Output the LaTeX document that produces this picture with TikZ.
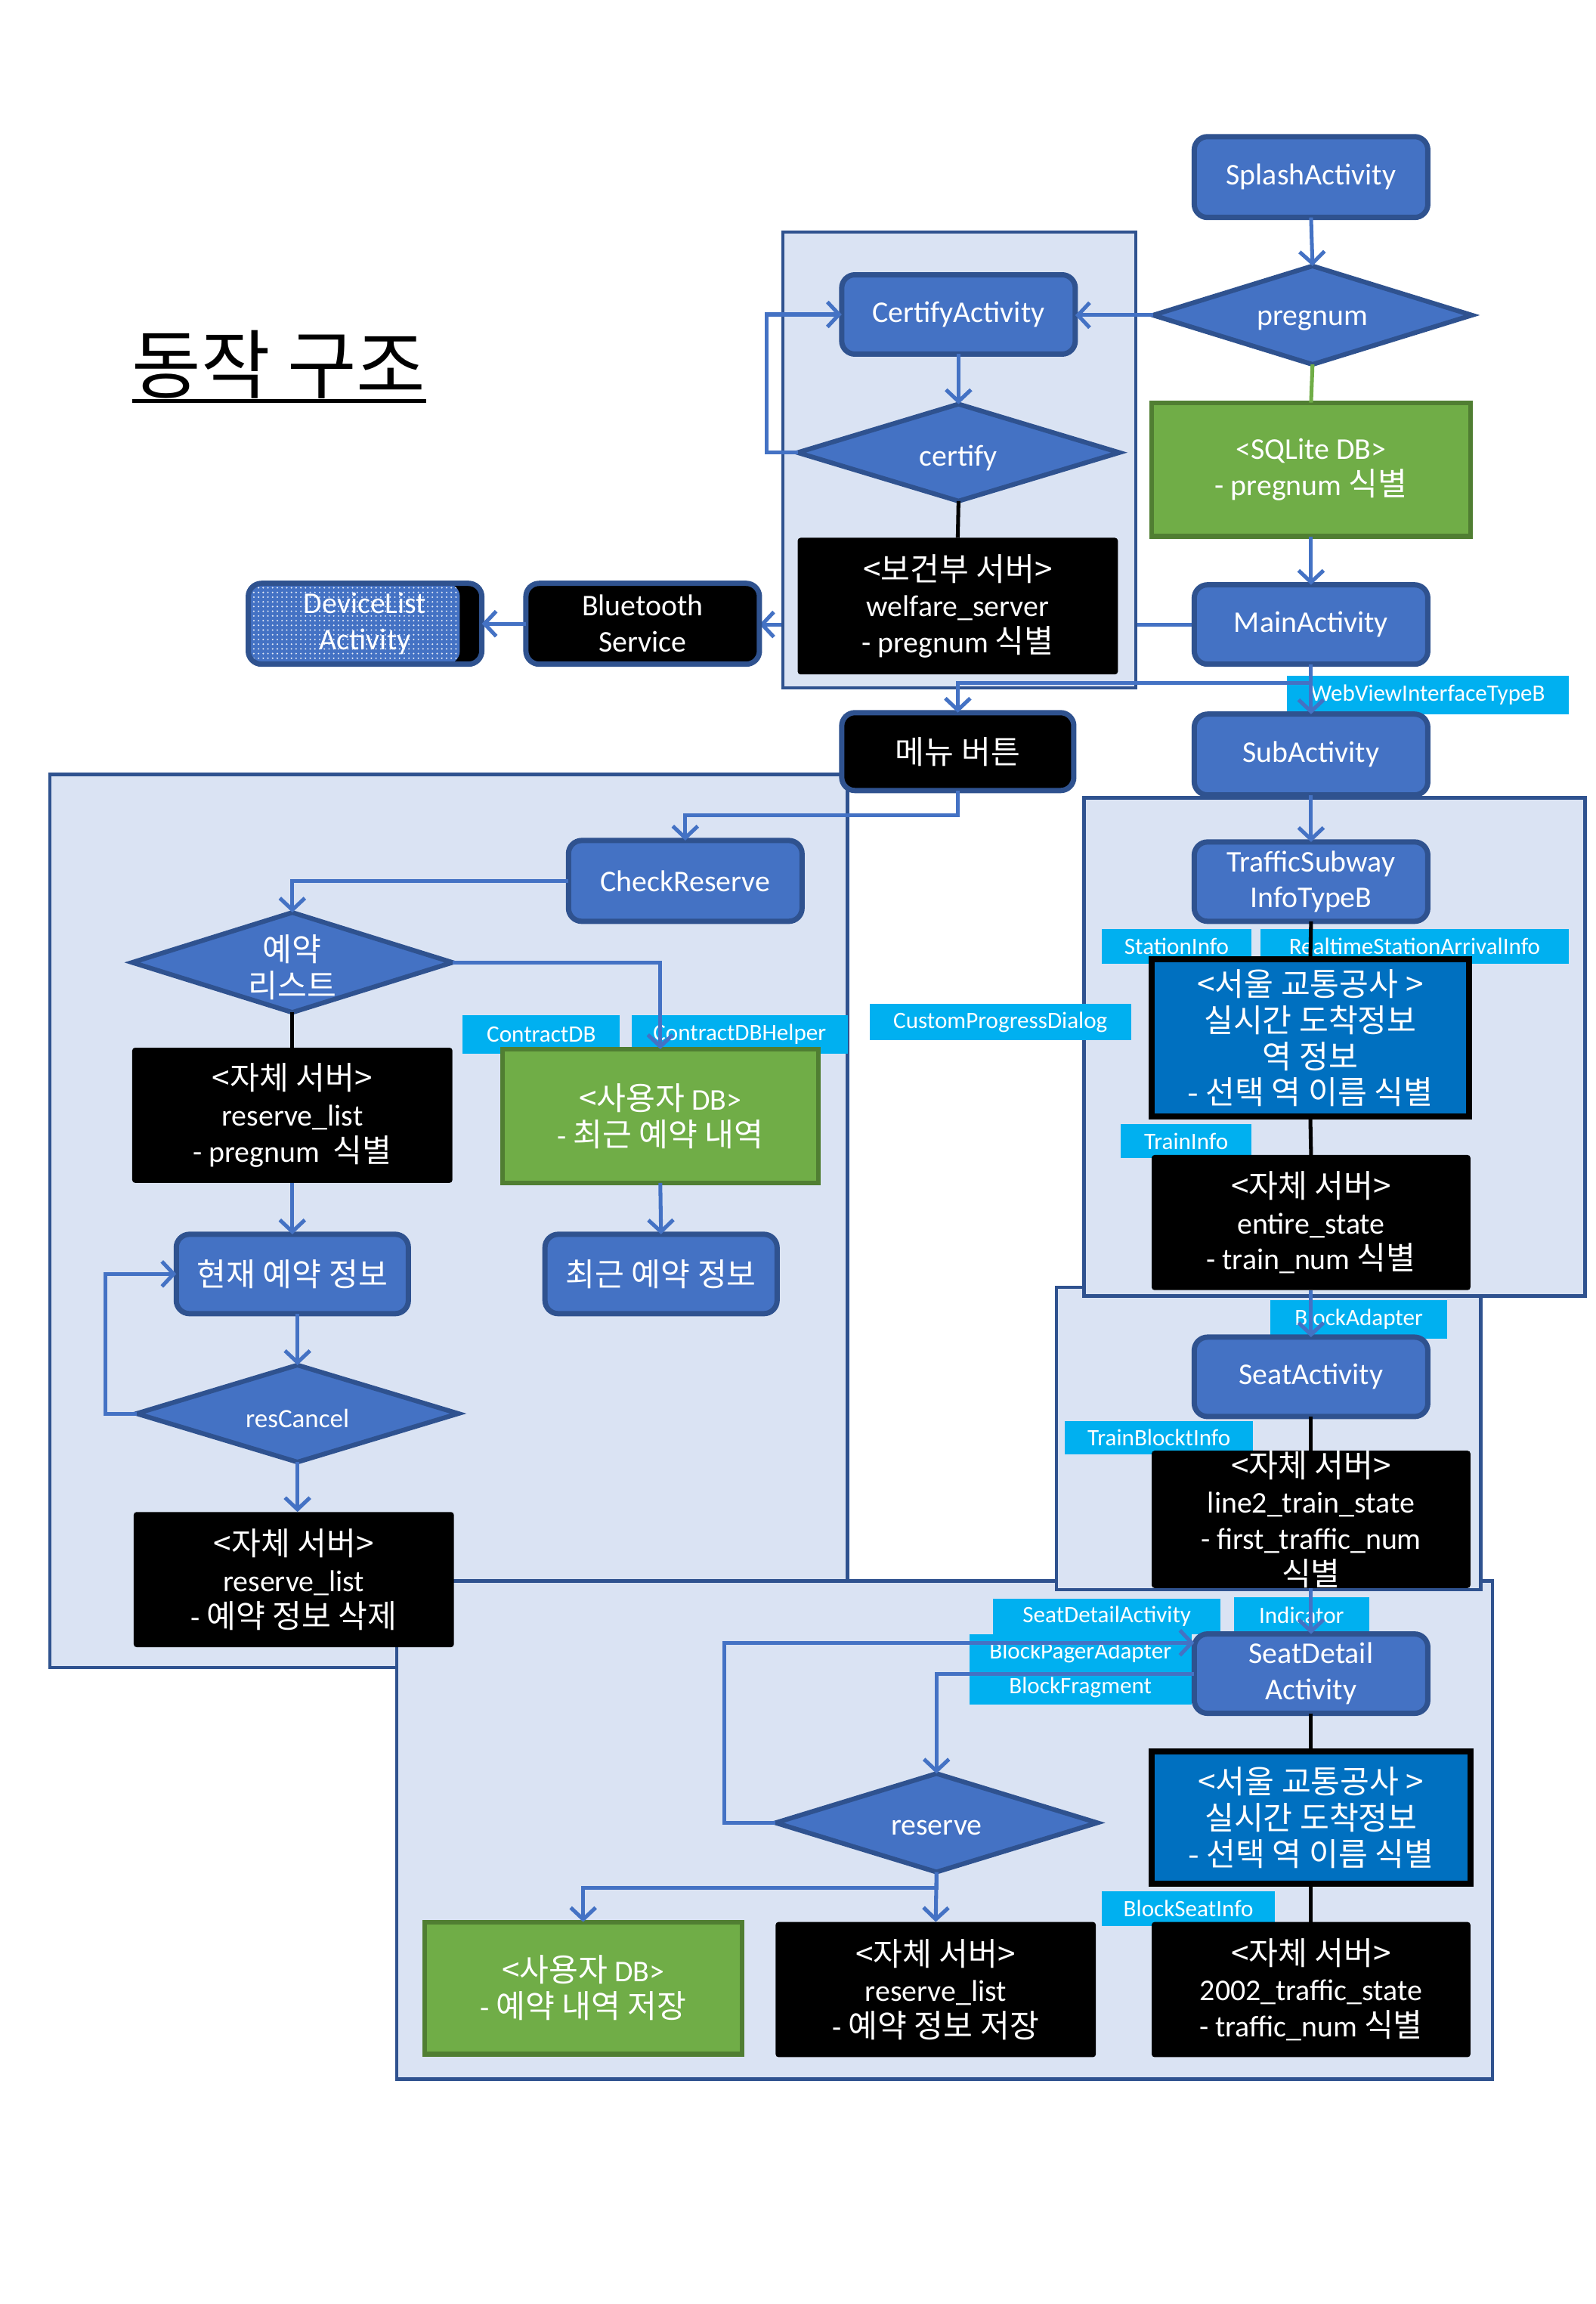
\documentclass[tikz,border=0pt]{standalone}
\usepackage{fontspec}
\setmainfont{Carlito}
\newfontfamily\kr[Scale=1.06]{Noto Sans CJK KR}
\newfontfamily\krt{Noto Sans CJK KR}
\usetikzlibrary{shapes.geometric,arrows.meta,patterns.meta,calc}
\definecolor{cFill}{HTML}{4472C4}
\definecolor{cEdge}{HTML}{2F528F}
\definecolor{cCont}{HTML}{DAE3F3}
\definecolor{cGreen}{HTML}{70AD47}
\definecolor{cGreenE}{HTML}{507E32}
\definecolor{cSeoul}{HTML}{0070C0}
\definecolor{cCyan}{HTML}{00B0F0}
\pgfdeclarelayer{lzero}\pgfdeclarelayer{lone}\pgfdeclarelayer{ltwo}
\pgfsetlayers{lzero,lone,ltwo,main}
\newcommand\hg[1]{{\kr #1}}
\newcommand\fsz{\fontsize{10.25}{12.3}\selectfont}
\newcommand\lsz{\fontsize{8}{9.6}\selectfont}
\newcommand\mkb[7]{\node[#1, minimum width={(#5-#3)*0.5pt}, minimum height={(#6-#4)*0.5pt}] (#2) at ({(#3+#5)/2},{(#4+#6)/2}) {#7};}
\tikzset{
  every node/.style={inner sep=0pt, outer sep=0pt, align=center, text=white, font=\fsz},
  bbox/.style={rectangle, rounded corners=4.5pt, draw=cEdge, line width=1.8pt, fill=cFill},
  dbox/.style={rectangle, rounded corners=4.5pt, draw=cEdge, line width=1.8pt, fill=black},
  sbox/.style={rectangle, rounded corners=1pt, fill=black},
  gbox/.style={rectangle, fill=cGreen, draw=cGreenE, line width=1.6pt},
  ubox/.style={rectangle, fill=cSeoul, draw=black, line width=2pt},
  dia/.style={diamond, fill=cFill, draw=cEdge, line width=1.6pt,
    label={[text=white, font=\fsz, align=center, yshift=-1.75pt]center:{#1}}},
  lab/.style={rectangle, fill=cCyan, font=\lsz},
  cont/.style={fill=cCont, draw=cEdge, line width=1.1pt},
  arr/.style={draw=cFill, line width=1.3pt, -{Straight Barb[length=4pt,width=8.5pt]}},
  bl/.style={draw=black, line width=1.3pt},
  gl/.style={draw=cGreen, line width=1.3pt}
}
\begin{document}
\begin{tikzpicture}[x=0.5pt, y=-0.5pt]
\useasboundingbox (0,0) rectangle (1086,1568);
\begin{pgfonlayer}{lzero}
  \fill[white] (0,0) rectangle (1086,1568);
  \draw[cont] (34,527) rectangle (577,1135);
  \draw[cont] (270,1076) rectangle (1016,1415);
  \draw[cont] (719,876) rectangle (1008,1082);
  \draw[cont] (738,543) rectangle (1079,882);
\end{pgfonlayer}
\begin{pgfonlayer}{ltwo}
  \draw[cont] (533,158) rectangle (773,468);
\end{pgfonlayer}

% title
\node[anchor=base west, font=\krt\fontsize{25.6}{27}\selectfont, text=black] (title) at (90,267) {동작 구조};
\draw[line width=1.4pt] ([yshift=-3pt]title.base west) -- ([yshift=-3pt]title.base east);

% labels (under boxes)
\mkb{lab}{lwv}{876}{460}{1068}{486}{WebViewInterfaceTypeB}
\mkb{lab}{lcdb}{315}{691}{422}{717}{ContractDB}
\mkb{lab}{lcdbh}{430}{691}{577}{717}{ContractDBHelper}
\mkb{lab}{lcpd}{592}{683}{770}{708}{CustomProgressDialog}
\mkb{lab}{lsi}{750}{632}{852}{656}{StationInfo}
\mkb{lab}{lrt}{858}{632}{1068}{656}{RealtimeStationArrivalInfo}
\mkb{lab}{lti}{763}{765}{852}{788}{TrainInfo}
\mkb{lab}{lba}{865}{885}{985}{911}{BlockAdapter}
\mkb{lab}{ltbi}{725}{967}{853}{990}{TrainBlocktInfo}
\mkb{lab}{lsda}{676}{1088}{831}{1112}{SeatDetailActivity}
\mkb{lab}{lind}{840}{1087}{932}{1111}{Indicator}
\mkb{lab}{lbpa}{660}{1112}{811}{1137}{BlockPagerAdapter}
\mkb{lab}{lbf}{660}{1137}{811}{1160}{BlockFragment}
\mkb{lab}{lbsi}{750}{1287}{868}{1311}{BlockSeatInfo}

% top area
\mkb{bbox}{spl}{813}{93}{972}{148}{SplashActivity}
\mkb{dia={pregnum}}{preg}{785}{181}{1002}{248}{}
\mkb{gbox}{sql}{784}{274}{1001}{365}{<SQLite DB>\\- pregnum \hg{식별}}
\mkb{bbox}{mainact}{813}{398}{972}{452}{MainActivity}
\mkb{bbox}{ca}{573}{187}{732}{241}{CertifyActivity}
\mkb{dia={certify}}{cert}{543}{275}{762}{341}{}
\mkb{sbox}{welf}{543}{366}{761}{459}{\hg{<보건부 서버>}\\welfare\_server\\- pregnum \hg{식별}}
\mkb{dbox}{bt}{358}{397}{517}{452}{Bluetooth\\Service}
\mkb{dbox, path picture={
    \fill[cFill] (path picture bounding box.north west) rectangle ([xshift=-7.5pt]path picture bounding box.south east);
    \path[pattern={Dots[distance=1.6pt, radius=0.3pt]}, pattern color=white!85!cFill] (path picture bounding box.north west) rectangle ([xshift=-7.5pt]path picture bounding box.south east);
  }}{dev}{169}{397}{328}{452}{DeviceList\\Activity}
\mkb{dbox}{menu}{573}{485}{731}{538}{\hg{메뉴 버튼}}
\mkb{bbox}{sub}{813}{486}{972}{541}{SubActivity}

% left area
\mkb{bbox}{chk}{387}{572}{546}{627}{CheckReserve}
\mkb{dia={\hg{예약}\\\hg{리스트}}}{rl}{90}{621}{308}{689}{}
\mkb{sbox}{srvA}{90}{713}{308}{805}{\hg{<자체 서버>}\\reserve\_list\\- pregnum\ \ \hg{식별}}
\mkb{gbox}{udb}{342}{714}{557}{805}{\hg{<사용자} DB>\\- \hg{최근 예약 내역}}
\mkb{bbox}{cur}{120}{840}{278}{894}{\hg{현재 예약 정보}}
\mkb{bbox}{rec}{371}{840}{529}{894}{\hg{최근 예약 정보}}
\mkb{dia={\fontsize{9}{10}\selectfont resCancel}}{rc}{93}{929}{312}{995}{}
\mkb{sbox}{srvB}{91}{1029}{309}{1121}{\hg{<자체 서버>}\\reserve\_list\\- \hg{예약 정보 삭제}}

% right area
\mkb{bbox}{tsi}{813}{573}{972}{627}{TrafficSubway\\InfoTypeB}
\mkb{ubox}{seoulA}{784}{653}{1000}{760}{\hg{<서울 교통공사 >}\\\hg{실시간 도착정보}\\\hg{역 정보}\\\hg{- 선택 역 이름 식별}}
\mkb{sbox}{ent}{784}{786}{1001}{878}{\hg{<자체 서버>}\\entire\_state\\- train\_num \hg{식별}}
\mkb{bbox}{seat}{813}{910}{972}{964}{SeatActivity}
\mkb{sbox}{srvL}{784}{988}{1001}{1080}{\hg{<자체 서버>}\\line2\_train\_state\\- first\_traffic\_num\\\hg{식별}}
\mkb{bbox}{sd}{813}{1112}{972}{1166}{SeatDetail\\Activity}
\mkb{ubox}{seoulB}{784}{1192}{1001}{1282}{\hg{<서울 교통공사 >}\\\hg{실시간 도착정보}\\\hg{- 선택 역 이름 식별}}
\mkb{sbox}{trs}{784}{1308}{1001}{1400}{\hg{<자체 서버>}\\2002\_traffic\_state\\- traffic\_num \hg{식별}}

% bottom area
\mkb{dia={reserve}}{res}{528}{1207}{747}{1274}{}
\mkb{gbox}{udbB}{289}{1308}{505}{1398}{\hg{<사용자} DB>\\- \hg{예약 내역 저장}}
\mkb{sbox}{srvC}{528}{1308}{746}{1400}{\hg{<자체 서버>}\\reserve\_list\\- \hg{예약 정보 저장}}

% connectors
\draw[arr] (spl.south) -- (preg.north);
\draw[arr] (preg.west) -- (preg.west -| ca.east);
\draw[gl] (preg.south) -- (sql.north);
\draw[arr] (sql.south) -- (mainact.north);
\draw[arr] (ca.south) -- (cert.north);
\draw[arr] (cert.west) -- ++(-21,0) |- (ca.west);
\draw[bl] (cert.south) -- (welf.north);
\begin{pgfonlayer}{lone}
  \draw[arr] (mainact.west) -- (mainact.west -| bt.east);
\end{pgfonlayer}
\draw[arr] (bt.west) -- (dev.east);
\draw[arr] (mainact.south) -- (sub.north);
\draw[arr] (mainact.south) ++(0,13) -| (menu.north);
\draw[arr] (menu.south) -- ++(0,17) -| (chk.north);
\draw[arr] (chk.west) -| (rl.north);
\draw[arr] (rl.east) -| (udb.north);
\draw[bl] (rl.south) -- (srvA.north);
\draw[arr] (srvA.south) -- (cur.north);
\draw[arr] (udb.south) -- (rec.north);
\draw[arr] (cur.south -| rc.north) -- (rc.north);
\draw[arr] (rc.west) -- ++(-21,0) |- (cur.west);
\draw[arr] (rc.south) -- (rc.south |- srvB.north);
\draw[arr] (sub.south) -- (tsi.north);
\draw[bl] (tsi.south) -- (seoulA.north);
\draw[bl] (seoulA.south) -- (ent.north);
\draw[arr] (ent.south) -- (seat.north);
\draw[bl] (seat.south) -- (srvL.north);
\draw[arr] (srvL.south) -- (sd.north);
\draw[bl] (sd.south) -- (seoulB.north);
\draw[bl] (seoulB.south) -- (trs.north);
\draw[arr] (sd.west) -| (res.north);
\draw[arr] (res.west) -- ++(-35,0) |- ([yshift=10.5pt]sd.west);
\draw[arr] (res.south) -- ++(0,11) -| (udbB.north);
\draw[arr] (res.south) -- (srvC.north);
\end{tikzpicture}
\end{document}
